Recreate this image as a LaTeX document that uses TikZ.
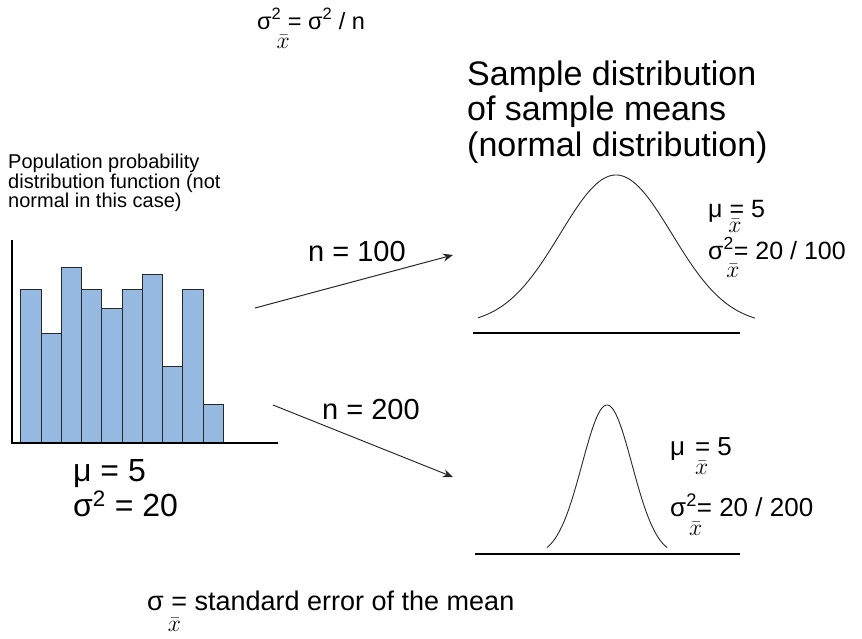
\documentclass[tikz,border=0pt]{standalone}
\usepackage{fontspec}
\setmainfont{Liberation Sans}
\usetikzlibrary{arrows.meta}
\definecolor{barblue}{RGB}{149,185,225}
\definecolor{inkgray}{RGB}{40,40,40}
\newcommand\xbs[2][0.85em]{\makebox[0pt][l]{\hspace{#2}\raisebox{-#1}{\scalebox{0.95}{$\bar{x}$}}}}
\newcommand\sq{\textsuperscript{2}}
\begin{document}
\begin{tikzpicture}[x=1pt,y=-1pt,
  txt/.style={anchor=base west, inner sep=0pt, text=black},
  blk/.style={anchor=north west, inner sep=0pt, text=black, align=left},
  barbox/.style={draw=inkgray, fill=barblue, line width=0.8pt},
  axisline/.style={draw=black, line width=1.8pt},
  baseline/.style={draw=black, line width=2.4pt},
  curve/.style={draw=inkgray, line width=0.9pt},
  arr/.style={draw=inkgray, line width=1pt, -{Stealth[length=10pt,width=8pt]}}]
\useasboundingbox (0,0) rectangle (862,638);
% top formula
\node[txt, font=\fontsize{23.5}{26}\selectfont] (varf) at (257,29) {σ\sq\xbs{-0.2em} = σ\sq{} / n};
% population text
\node[blk, font=\fontsize{20}{19.5}\selectfont] (pop) at (8,154) {Population probability\\distribution function (not\\normal in this case)};
% histogram
\foreach \t [count=\i from 0] in {289,333,267,289,308,289,274,366,289,404}
  \draw[barbox] ({20.7+\i*20.26},443) rectangle ({20.7+(\i+1)*20.26},\t);
\draw[axisline] (12,240) -- (12,443) -- (278,443);
\node[txt, font=\fontsize{32}{34}\selectfont] (mu0) at (73,481) {μ = 5};
\node[txt, font=\fontsize{32}{34}\selectfont] (var0) at (73,516) {σ\sq{} = 20};
% title
\node[blk, font=\fontsize{34}{35.5}\selectfont] (title) at (467,60.5) {Sample distribution\\of sample means\\(normal distribution)};
% arrows
\coordinate (a1s) at (255,308);
\coordinate (a1e) at (453,255);
\coordinate (a2s) at (273,405);
\coordinate (a2e) at (453,477);
\draw[arr] (a1s) -- (a1e);
\draw[arr] (a2s) -- (a2e);
\node[txt, font=\fontsize{29}{32}\selectfont] (n1) at (308,261) {n = 100};
\node[txt, font=\fontsize{29}{32}\selectfont] (n2) at (322,419) {n = 200};
% upper normal
\draw[curve] plot[domain=478:755, samples=120, smooth] (\x, {325-150*exp(-0.5*((\x-616)/56)^2)});
\draw[baseline] (473,333) -- (740,333);
\node[txt, font=\fontsize{25}{28}\selectfont] (mu1) at (708,217) {μ \xbs[0.62em]{-0.05em}= 5};
\node[txt, font=\fontsize{25}{28}\selectfont] (var1) at (708,259) {σ\sq\xbs[0.75em]{-0.3em}= 20 / 100};
% lower normal
\draw[curve] plot[domain=547:667, samples=100, smooth] (\x, {556-151*exp(-0.5*((\x-607)/25)^2)});
\draw[baseline] (475,554) -- (740,554);
\node[txt, font=\fontsize{26}{29}\selectfont] (mu2) at (670,455) {μ\hspace{0.1em} \xbs[0.75em]{0em}= 5};
\node[txt, font=\fontsize{26}{29}\selectfont] (var2) at (670,516) {σ\sq\xbs[0.75em]{-0.3em}= 20 / 200};
% bottom
\node[txt, font=\fontsize{27}{30}\selectfont] (se) at (147,610) {σ\xbs[0.8em]{0.15em} = standard error of the mean};
\end{tikzpicture}
\end{document}
